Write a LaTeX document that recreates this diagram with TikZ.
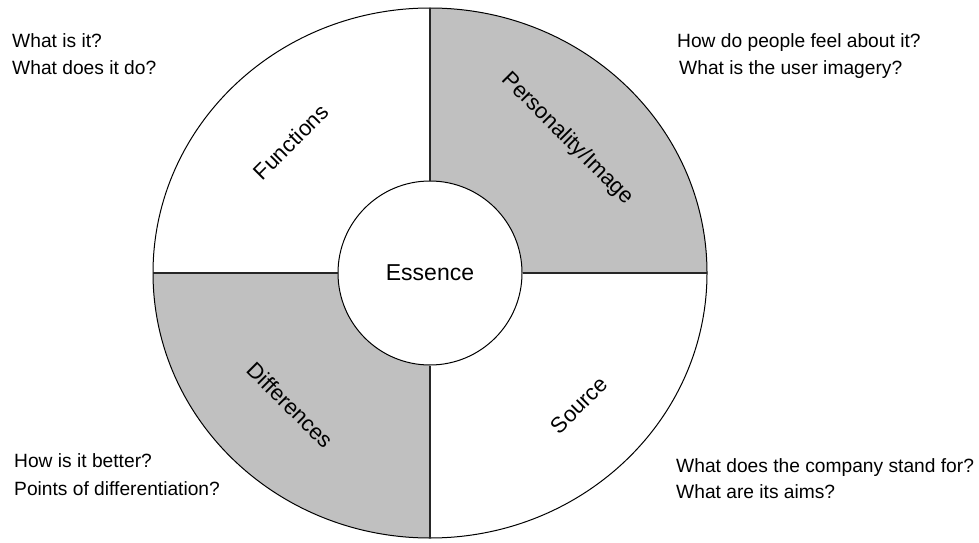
\documentclass[tikz,border=0pt]{standalone}
\usepackage{fontspec}
\setmainfont{Liberation Sans}
\usetikzlibrary{positioning,calc}
\definecolor{quadgray}{RGB}{192,192,192}

\begin{document}
\begin{tikzpicture}[
		x=1pt,y=1pt,
		question/.style={
			anchor=base west,
			inner sep=0pt,
			font=\fontsize{19.2}{23}\selectfont
		},
		segment/.style={
			inner sep=0pt,
			font=\fontsize{22}{26}\selectfont
		},
		divider/.style={
			line width=1.6pt,
			draw=black!85
		}
		]
		\useasboundingbox (0,0) rectangle (979,542);
		\coordinate (c) at (430,269);
		\coordinate (top) at (430,534);
		\coordinate (bottom) at (430,4);
		\coordinate (left) at (153,269);
		\coordinate (right) at (707,269);
		% shaded quadrants
		\fill[quadgray] (c) -- (right) arc[start angle=0,end angle=90,x radius=277,y radius=265] -- cycle;
		\fill[quadgray] (c) -- (left) arc[start angle=180,end angle=270,x radius=277,y radius=265] -- cycle;
		\draw[line width=1pt] (c) ellipse (277 and 265);
		\node[circle,draw,line width=1pt,fill=white,minimum size=184pt,inner sep=0pt,
			font=\fontsize{23}{27}\selectfont] (core) at (c) {Essence};
		\draw[divider] (core.north) -- (top);
		\draw[divider] (core.south) -- (bottom);
		\draw[divider] (core.west) -- (left);
		\draw[divider] (core.east) -- (right);
		% quadrant labels
		\node[segment,rotate=45] (functions) at (291,400) {Functions};
		\node[segment,rotate=-45] (personality) at (567,403) {Personality/Image};
		\node[segment,rotate=-45] (differences) at (290,137) {Differences};
		\node[segment,rotate=45] (source) at (579,137) {Source};
		% questions
		\node[question] (qa1) at (12,494) {What is it?};
		\node[question] (qa2) at (12,467) {What does it do?};
		\node[question] (qb1) at (677,494) {How do people feel about it?};
		\node[question] (qb2) at (679,467) {What is the user imagery?};
		\node[question] (qc1) at (14,75) {How is it better?};
		\node[question] (qc2) at (14,47) {Points of differentiation?};
		\node[question] (qd1) at (676,70) {What does the company stand for?};
		\node[question] (qd2) at (676,44) {What are its aims?};
		\end{tikzpicture}
\end{document}
